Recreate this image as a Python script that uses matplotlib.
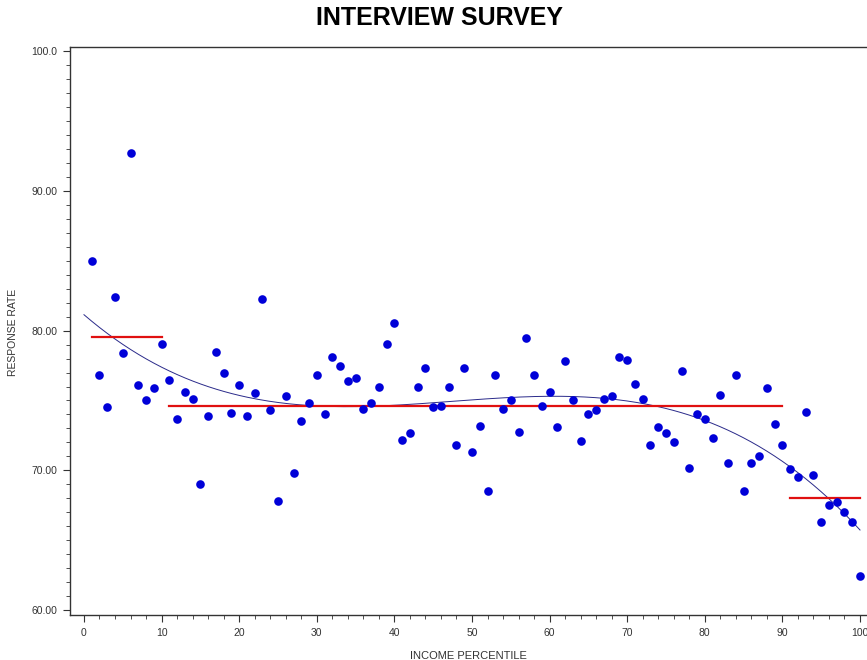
#response rate by income percentile, with group means and a cubic trend
import matplotlib
matplotlib.use('Agg')
import matplotlib.pyplot as plt
from matplotlib.ticker import MultipleLocator
import numpy as np

plt.rcParams['font.family'] = ['Liberation Sans', 'DejaVu Sans']

#the data
percentile = np.arange(1, 101)
response_rate = [85.0, 76.8, 74.5, 82.4, 78.4, 92.7, 76.1, 75.0, 75.9, 79.05,
                 76.5, 73.7, 75.6, 75.1, 69.0, 73.9, 78.5, 77.0, 74.1, 76.1,
                 73.9, 75.5, 82.3, 74.3, 67.8, 75.3, 69.8, 73.5, 74.8, 76.8,
                 74.0, 78.1, 77.5, 76.4, 76.6, 74.4, 74.8, 76.0, 79.05, 80.55,
                 72.2, 72.7, 76.0, 77.3, 74.5, 74.6, 75.95, 71.8, 77.3, 71.3,
                 73.2, 68.55, 76.8, 74.4, 75.0, 72.75, 79.5, 76.8, 74.6, 75.6,
                 73.1, 77.8, 75.05, 72.1, 74.0, 74.3, 75.1, 75.3, 78.1, 77.9,
                 76.2, 75.1, 71.8, 73.1, 72.7, 72.0, 77.1, 70.2, 74.0, 73.7,
                 72.3, 75.4, 70.5, 76.8, 68.55, 70.5, 71.0, 75.9, 73.3, 71.8,
                 70.1, 69.5, 74.2, 69.7, 66.3, 67.5, 67.7, 67.0, 66.3, 62.4]

#income groups and their mean response rate (red lines)
group_start = [1, 11, 91]
group_end = [10, 90, 100]
group_mean = [79.55, 74.6, 68.05]

y_ticks = [60, 70, 80, 90, 100]
y_tick_labels = ['60.00', '70.00', '80.00', '90.00', '100.0']

fig = plt.figure(figsize=(8.67, 6.6), dpi=100)
ax = fig.add_axes([70 / 867, 45 / 660, 797 / 867, 568 / 660])

#cubic trend line fitted to the points
coef = np.polyfit(percentile, response_rate, 3)
xs = np.linspace(0, 100, 300)
ax.plot(xs, np.polyval(coef, xs), color='#2a2a8a', linewidth=0.7, zorder=2)

for x0, x1, m in zip(group_start, group_end, group_mean):
    ax.plot([x0, x1], [m, m], color='#e01010', linewidth=1.6, zorder=3)

ax.plot(percentile, response_rate, linestyle='', marker='o', markersize=6.2,
        color='#0000d8', markeredgewidth=0, zorder=4)

ax.set_xlim(-1.8, 100.9)
ax.set_ylim(59.64, 100.31)
ax.xaxis.set_major_locator(MultipleLocator(10))
ax.xaxis.set_minor_locator(MultipleLocator(2))
ax.set_yticks(y_ticks)
ax.set_yticklabels(y_tick_labels)
ax.yaxis.set_minor_locator(MultipleLocator(1))
ax.spines['right'].set_visible(False)
for s in ['left', 'bottom', 'top']:
    ax.spines[s].set_color('#333333')
    ax.spines[s].set_linewidth(1.0)
ax.tick_params(which='major', length=5, width=0.8, color='#333333', labelsize=7.5,
               labelcolor='#333333', pad=4)
ax.tick_params(which='minor', length=3, width=0.6, color='#333333')

ax.set_xlabel('INCOME PERCENTILE', fontsize=8, color='#333333', labelpad=10)
ax.set_ylabel('RESPONSE RATE', fontsize=7.5, color='#333333')
ax.yaxis.set_label_coords(-52 / 797, 0.498)

fig.text(440 / 867, 1 - 18 / 660, 'INTERVIEW SURVEY', ha='center', va='center',
         fontsize=18, fontweight='bold')

fig.savefig('out.png', dpi=100)
